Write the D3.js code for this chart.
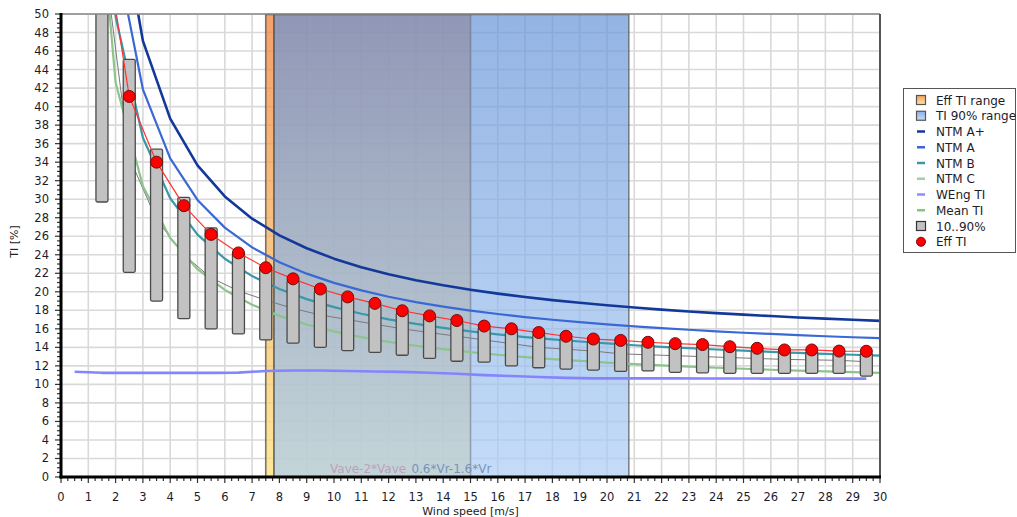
<!DOCTYPE html>
<html><head><meta charset="utf-8">
<script src="https://cdn.jsdelivr.net/npm/d3@7/dist/d3.min.js"></script>
<style>body{margin:0;background:#fff;}svg{display:block;}</style>
</head><body>
<svg id="c" width="1017" height="517"></svg>
<script>
// ---------- data ----------
const xTickLabels = [0,1,2,3,4,5,6,7,8,9,10,11,12,13,14,15,16,17,18,19,20,21,22,23,24,25,26,27,28,29,30];
const yTickLabels = [0,2,4,6,8,10,12,14,16,18,20,22,24,26,28,30,32,34,36,38,40,42,44,46,48,50];
const binCenters = [1.5,2.5,3.5,4.5,5.5,6.5,7.5,8.5,9.5,10.5,11.5,12.5,13.5,14.5,15.5,16.5,17.5,18.5,19.5,20.5,21.5,22.5,23.5,24.5,25.5,26.5,27.5,28.5,29.5];
const effTI = [60,41.1,34.0,29.3,26.2,24.2,22.6,21.4,20.3,19.45,18.75,17.95,17.4,16.9,16.3,16.0,15.6,15.2,14.9,14.75,14.55,14.4,14.3,14.07,13.9,13.72,13.72,13.6,13.58];
const p10 = [29.7,22.1,19.0,17.1,16.0,15.45,14.8,14.45,14.0,13.65,13.45,13.15,12.8,12.5,12.4,12.0,11.8,11.65,11.55,11.4,11.45,11.3,11.25,11.2,11.2,11.2,11.2,11.2,10.9];
const p90 = [58,45.1,35.4,30.2,26.9,24.3,22.8,21.2,20.05,19.25,18.55,17.75,17.2,16.7,16.1,15.8,15.4,15.0,14.7,14.55,14.35,14.2,14.1,13.87,13.7,13.52,13.52,13.4,13.38];
const meanTI = [58,34.5,27.8,24.0,21.5,20.1,19.1,18.2,17.5,17.0,16.5,16.0,15.6,15.2,14.8,14.4,14.0,13.8,13.6,13.3,13.2,13.1,13.0,12.9,12.8,12.7,12.65,12.6,12.45];
const wengBins = [0.5,1.5,2.5,3.5,4.5,5.5,6.5,7.5,8.5,9.5,10.5,11.5,12.5,13.5,14.5,15.5,16.5,17.5,18.5,19.5,20.5,21.5,22.5,23.5,24.5,25.5,26.5,27.5,28.5,29.5];
const wengTI = [11.37,11.25,11.25,11.25,11.25,11.25,11.27,11.45,11.5,11.5,11.45,11.4,11.35,11.25,11.15,11.0,10.9,10.8,10.7,10.65,10.65,10.65,10.65,10.63,10.63,10.63,10.62,10.62,10.62,10.62];
const ntmSpeeds = [1,2,3,4,5,6,7,8,9,10,11,12,13,14,15,16,17,18,19,20,21,22,23,24,25,26,27,28,29,30];
const ntmAplus = [114.3,63.9,47.1,38.7,33.66,30.3,27.9,26.1,24.7,23.58,22.66,21.9,21.25,20.7,20.22,19.8,19.43,19.1,18.81,18.54,18.3,18.08,17.88,17.7,17.53,17.38,17.23,17.1,16.98,16.86];
const ntmA = [101.6,56.8,41.87,34.4,29.92,26.93,24.8,23.2,21.96,20.96,20.15,19.47,18.89,18.4,17.97,17.6,17.27,16.98,16.72,16.48,16.27,16.07,15.9,15.73,15.58,15.45,15.32,15.2,15.09,14.99];
const ntmB = [88.9,49.7,36.63,30.1,26.18,23.57,21.7,20.3,19.21,18.34,17.63,17.03,16.53,16.1,15.73,15.4,15.11,14.86,14.63,14.42,14.23,14.06,13.91,13.77,13.64,13.52,13.4,13.3,13.2,13.11];
const ntmC = [76.2,42.6,31.4,25.8,22.44,20.2,18.6,17.4,16.47,15.72,15.11,14.6,14.17,13.8,13.48,13.2,12.95,12.73,12.54,12.36,12.2,12.05,11.92,11.8,11.69,11.58,11.49,11.4,11.32,11.24];
const effRange = [7.5, 15.0];     // Vave - 2*Vave
const ti90Range = [7.8, 20.8];    // 0.6*Vr - 1.6*Vr
const legendLabels = ["Eff TI range","TI 90% range","NTM A+","NTM A","NTM B","NTM C","WEng TI","Mean TI","10..90%","Eff TI"];

// ---------- setup ----------
const svg = d3.select("#c");
const L = 61, R = 880, T = 14, B = 477;
const x = d3.scaleLinear().domain([0,30]).range([L,R]);
const y = d3.scaleLinear().domain([0,50]).range([B,T]);
const defs = svg.append("defs");
defs.append("clipPath").attr("id","plot").append("rect")
  .attr("x",L).attr("y",T).attr("width",R-L).attr("height",B-T);
function grad(id, top, bot, op){
  const g = defs.append("linearGradient").attr("id",id).attr("x1",0).attr("y1",0).attr("x2",0).attr("y2",1);
  g.append("stop").attr("offset","0%").attr("stop-color",top).attr("stop-opacity",op);
  g.append("stop").attr("offset","100%").attr("stop-color",bot).attr("stop-opacity",op);
}
grad("gOr","#f28038","#fce076",0.75);
grad("gBl","#6694d8","#abcdf5",0.7);
grad("gOrL","#f5a068","#fde898",1);
grad("gBlL","#8cb0e6","#c4dcf8",1);

// grid
const grid = svg.append("g");
grid.selectAll("line.v").data(xTickLabels.slice(1)).join("line")
  .attr("x1",d=>x(d)).attr("x2",d=>x(d)).attr("y1",T).attr("y2",B)
  .attr("stroke","#d9d9d9").attr("stroke-width",1.6);
grid.selectAll("line.h").data(yTickLabels.slice(1)).join("line")
  .attr("y1",d=>y(d)).attr("y2",d=>y(d)).attr("x1",L).attr("x2",R)
  .attr("stroke","#d9d9d9").attr("stroke-width",1.6);

// bands
const bands = svg.append("g");
bands.append("rect").attr("x",x(effRange[0])).attr("y",T).attr("width",x(effRange[1])-x(effRange[0])).attr("height",B-T)
  .attr("fill","url(#gOr)");
bands.append("rect").attr("x",x(ti90Range[0])).attr("y",T).attr("width",x(ti90Range[1])-x(ti90Range[0])).attr("height",B-T)
  .attr("fill","url(#gBl)");
[[effRange[0],"#555",0.8],[effRange[1],"#667",0.45],[ti90Range[0],"#444",0.8],[ti90Range[1],"#555",0.7]].forEach(([v,c,o])=>{
  bands.append("line").attr("x1",x(v)).attr("x2",x(v)).attr("y1",T).attr("y2",B)
    .attr("stroke",c).attr("stroke-opacity",o).attr("stroke-width",1.6);
});
bands.append("line").attr("x1",x(effRange[0])).attr("x2",x(ti90Range[1])).attr("y1",T+0.5).attr("y2",T+0.5)
  .attr("stroke","#333").attr("stroke-opacity",0.6).attr("stroke-width",1.5);

// lines
const plot = svg.append("g").attr("clip-path","url(#plot)");
const line = d3.line().x(d=>x(d[0])).y(d=>y(d[1]));
function drawLine(xs, ys, color, w){
  plot.append("path").datum(xs.map((v,i)=>[v,ys[i]])).attr("d",line)
    .attr("fill","none").attr("stroke",color).attr("stroke-width",w).attr("stroke-linejoin","round");
}
drawLine(binCenters, meanTI, "#7a7a7a", 1);
drawLine(ntmSpeeds, ntmC, "#8cc48c", 2.2);
drawLine(ntmSpeeds, ntmB, "#3a98aa", 2.2);
drawLine(ntmSpeeds, ntmA, "#3a68d4", 2.2);
drawLine(ntmSpeeds, ntmAplus, "#12389a", 2.6);
drawLine(wengBins, wengTI, "#8484ff", 2.6);

// bars
plot.selectAll("rect.bar").data(binCenters).join("rect")
  .attr("x",(d)=>x(d-0.22)).attr("width",(d)=>x(d+0.22)-x(d-0.22))
  .attr("y",(d,i)=>y(p90[i])).attr("height",(d,i)=>y(p10[i])-y(p90[i]))
  .attr("rx",1.5).attr("fill","#c2c2c2").attr("stroke","#4a4a4a").attr("stroke-width",1.3);

// eff TI
drawLine(binCenters, effTI, "#ff3333", 1.2);
plot.selectAll("circle.eff").data(binCenters).join("circle")
  .attr("cx",d=>x(d)).attr("cy",(d,i)=>y(effTI[i])).attr("r",6)
  .attr("fill","#ff0000").attr("stroke","#6a1010").attr("stroke-width",1);

// band labels
svg.append("text").attr("x",(x(effRange[0])+x(effRange[1]))/2).attr("y",B-4)
  .attr("text-anchor","middle").attr("font-family","DejaVu Sans").attr("font-size",12)
  .attr("fill","#bca2b6").text("Vave-2*Vave");
svg.append("text").attr("x",(x(ti90Range[0])+x(ti90Range[1]))/2).attr("y",B-4)
  .attr("text-anchor","middle").attr("font-family","DejaVu Sans").attr("font-size",12)
  .attr("fill","#7a92b8").text("0.6*Vr-1.6*Vr");

// borders
svg.append("line").attr("x1",L).attr("x2",R).attr("y1",T).attr("y2",T).attr("stroke","#888").attr("stroke-width",1.5);
svg.append("line").attr("x1",R).attr("x2",R).attr("y1",T).attr("y2",B).attr("stroke","#555").attr("stroke-width",2);

// axes
const minorX = d3.range(0,30.001,0.25), minorY = d3.range(0,50.001,0.5);
const ax = svg.append("g");
ax.selectAll("line.mx").data(minorX).join("line")
  .attr("x1",d=>x(d)).attr("x2",d=>x(d)).attr("y1",B).attr("y2",d=>B+(Math.abs(d-Math.round(d))<1e-6?6:4))
  .attr("stroke","#333").attr("stroke-width",1.2);
ax.selectAll("line.my").data(minorY).join("line")
  .attr("y1",d=>y(d)).attr("y2",d=>y(d)).attr("x1",L).attr("x2",d=>L-(d%2===0?6:4))
  .attr("stroke","#333").attr("stroke-width",1.2);
ax.append("line").attr("x1",L).attr("x2",L).attr("y1",T-1).attr("y2",B+1.5).attr("stroke","#000").attr("stroke-width",3);
ax.append("line").attr("x1",L-1.5).attr("x2",R+1).attr("y1",B).attr("y2",B).attr("stroke","#000").attr("stroke-width",3);
ax.selectAll("text.xt").data(xTickLabels).join("text")
  .attr("x",d=>x(d)).attr("y",B+24).attr("text-anchor","middle")
  .attr("font-family","DejaVu Sans").attr("font-size",11.5).attr("fill","#1c1c2c").text(d=>d);
ax.selectAll("text.yt").data(yTickLabels).join("text")
  .attr("x",L-12).attr("y",d=>y(d)+4).attr("text-anchor","end")
  .attr("font-family","DejaVu Sans").attr("font-size",11.5).attr("fill","#1c1c2c").text(d=>d);
ax.append("text").attr("x",(L+R)/2).attr("y",515).attr("text-anchor","middle")
  .attr("font-family","DejaVu Sans").attr("font-size",11).attr("fill","#222").text("Wind speed [m/s]");
ax.append("text").attr("transform",`translate(18,${(T+B)/2-4}) rotate(-90)`).attr("text-anchor","middle")
  .attr("font-family","DejaVu Sans").attr("font-size",11).attr("fill","#222").text("TI [%]");

// legend
const lg = svg.append("g");
lg.append("rect").attr("x",903.5).attr("y",88.5).attr("width",112).attr("height",164)
  .attr("fill","#fff").attr("stroke","#555").attr("stroke-width",1);
const lgY = i => 100 + i*15.75;
const lineCols = {2:"#12389a",3:"#3a68d4",4:"#3a98aa",5:"#a4cfa4",6:"#8c8cff",7:"#84c484"};
legendLabels.forEach((lab,i)=>{
  const cy = lgY(i);
  if(i===0 || i===1 || i===8){
    lg.append("rect").attr("x",916.5).attr("y",cy-4.5).attr("width",9).attr("height",9)
      .attr("fill", i===0?"url(#gOrL)":i===1?"url(#gBlL)":"#c2c2c2")
      .attr("stroke", i===8?"#333":"#555").attr("stroke-width",1.2);
  } else if(i===9){
    lg.append("circle").attr("cx",921).attr("cy",cy).attr("r",4.5).attr("fill","#ff0000").attr("stroke","#6a1010");
  } else {
    lg.append("line").attr("x1",917).attr("x2",925).attr("y1",cy).attr("y2",cy)
      .attr("stroke",lineCols[i]).attr("stroke-width",2.5);
  }
  lg.append("text").attr("x",936).attr("y",cy+4.5).attr("font-family","DejaVu Sans").attr("font-size",12)
    .attr("fill","#1c1c2c").text(lab);
});
</script>
</body></html>
